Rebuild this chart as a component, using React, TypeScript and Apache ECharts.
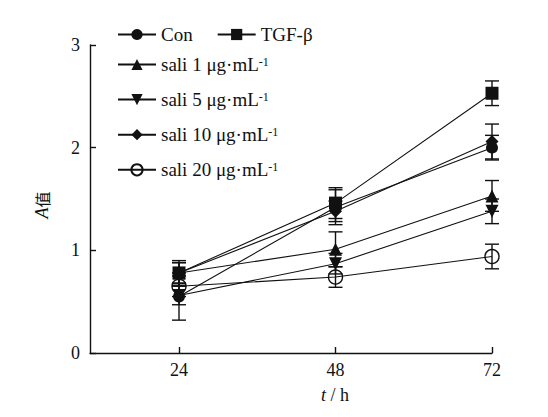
import React, { useEffect, useRef } from "react";
import * as echarts from "echarts";

const times = [24, 48, 72];
const xTicks = [24, 48, 72];
const seriesNames = ["Con", "TGF-β", "sali 1 μg·mL-1", "sali 5 μg·mL-1", "sali 10 μg·mL-1", "sali 20 μg·mL-1"];
const conMean = [0.55, 1.42, 2.0];
const conErr = [0.23, 0.17, 0.12];
const tgfMean = [0.78, 1.46, 2.53];
const tgfErr = [0.12, 0.15, 0.12];
const sali1Mean = [0.78, 1.01, 1.53];
const sali1Err = [0.1, 0.17, 0.15];
const sali5Mean = [0.56, 0.87, 1.38];
const sali5Err = [0.09, 0.1, 0.12];
const sali10Mean = [0.78, 1.38, 2.06];
const sali10Err = [0.1, 0.1, 0.17];
const sali20Mean = [0.65, 0.74, 0.94];
const sali20Err = [0.1, 0.1, 0.12];

const FONT = "Liberation Serif";

export default function App() {
  const ref = useRef<HTMLDivElement>(null);
  useEffect(() => {
    if (!ref.current) return;
    const chart = echarts.init(ref.current, null, { renderer: "svg" });
    const means = [conMean, tgfMean, sali1Mean, sali5Mean, sali10Mean, sali20Mean];
    const errs = [conErr, tgfErr, sali1Err, sali5Err, sali10Err, sali20Err];
    const symbols = ["circle", "rect", "triangle", "triangle", "diamond", "circle"];
    const rotates = [0, 0, 0, 180, 0, 0];
    const sizes = [12, 13, 13, 13, 13, 14];

    const errSeries = means.map((m, i) => ({
      type: "custom",
      name: seriesNames[i] + "-err",
      silent: true,
      z: 1,
      data: times.map((t, j) => [t, m[j] - errs[i][j], m[j] + errs[i][j]]),
      renderItem: (params: any, api: any) => {
        const x = api.value(0);
        const lo = api.coord([x, api.value(1)]);
        const hi = api.coord([x, api.value(2)]);
        const w = 7;
        const style = { stroke: "#111", lineWidth: 1.4 };
        return {
          type: "group",
          children: [
            { type: "line", shape: { x1: lo[0], y1: lo[1], x2: hi[0], y2: hi[1] }, style },
            { type: "line", shape: { x1: lo[0] - w, y1: lo[1], x2: lo[0] + w, y2: lo[1] }, style },
            { type: "line", shape: { x1: hi[0] - w, y1: hi[1], x2: hi[0] + w, y2: hi[1] }, style },
          ],
        };
      },
    }));

    const lineSeries = means.map((m, i) => ({
      type: "line",
      name: seriesNames[i],
      z: 3,
      data: times.map((t, j) => [t, m[j]]),
      symbol: symbols[i],
      symbolSize: sizes[i],
      symbolRotate: rotates[i],
      showAllSymbol: true,
      lineStyle: { color: "#111", width: 1.1 },
      itemStyle:
        i === 5
          ? { color: "rgba(0,0,0,0)", borderColor: "#111", borderWidth: 1.4 }
          : { color: "#111", borderColor: "#111", borderWidth: 0 },
    }));

    const rich = {
      n: { fontFamily: FONT, fontSize: 19, color: "#111", lineHeight: 18 },
      sup: { fontFamily: FONT, fontSize: 12, color: "#111", lineHeight: 18, verticalAlign: "top", padding: [0, 0, 9, 0] },
    };
    const fmt = (name: string) => {
      if (name.endsWith("-1")) return "{n|" + name.slice(0, -2) + "}{sup|-1}";
      return "{n|" + name + "}";
    };

    chart.setOption({
      animation: false,
      backgroundColor: "#fff",
      grid: { left: 90, right: 56, top: 45, bottom: 64, containLabel: false },
      legend: [
        {
          data: [seriesNames[0], seriesNames[1]],
          orient: "horizontal",
          left: 112,
          top: 20,
          itemWidth: 38,
          itemHeight: 14,
          itemGap: 24,
          formatter: fmt,
          textStyle: { rich, fontFamily: FONT, fontSize: 19, color: "#111" },
          selectedMode: false,
        },
        {
          data: seriesNames.slice(2),
          orient: "vertical",
          left: 112,
          top: 50,
          itemWidth: 38,
          itemHeight: 14,
          itemGap: 13.6,
          formatter: fmt,
          textStyle: { rich, fontFamily: FONT, fontSize: 19, color: "#111" },
          selectedMode: false,
        },
      ],
      xAxis: {
        type: "value",
        min: 10.35,
        max: 72,
        axisLine: { show: true, lineStyle: { color: "#111", width: 1.4 } },
        axisTick: { show: true, inside: true, length: 6, customValues: xTicks, lineStyle: { color: "#111", width: 1.4 } },
        axisLabel: { customValues: xTicks, fontFamily: FONT, fontSize: 18, color: "#111", margin: 8 },
        splitLine: { show: false },
      },
      yAxis: {
        type: "value",
        min: 0,
        max: 3,
        interval: 1,
        axisLine: { show: true, lineStyle: { color: "#111", width: 1.4 } },
        axisTick: { show: true, inside: true, length: 6, lineStyle: { color: "#111", width: 1.4 } },
        axisLabel: { fontFamily: FONT, fontSize: 18, color: "#111", margin: 10 },
        splitLine: { show: false },
      },
      graphic: [
        {
          type: "text",
          x: 335,
          y: 395,
          style: {
            text: "{i|t} / h",
            fontFamily: FONT,
            fontSize: 18,
            fill: "#111",
            align: "center",
            verticalAlign: "middle",
            rich: { i: { fontFamily: FONT, fontSize: 18, fontStyle: "italic", fill: "#111" } },
          },
        },
        {
          type: "text",
          x: 42,
          y: 205,
          rotation: Math.PI / 2,
          style: {
            text: "{i|A}值",
            fontFamily: "Noto Sans CJK SC",
            fontSize: 16,
            fill: "#111",
            align: "center",
            verticalAlign: "middle",
            rich: { i: { fontFamily: FONT, fontSize: 18, fontStyle: "italic", fill: "#111" } },
          },
        },
      ],
      series: [...errSeries, ...lineSeries],
    });
    return () => chart.dispose();
  }, []);
  return <div ref={ref} style={{ position: "fixed", left: 0, top: 0, width: 548, height: 417 }} />;
}
